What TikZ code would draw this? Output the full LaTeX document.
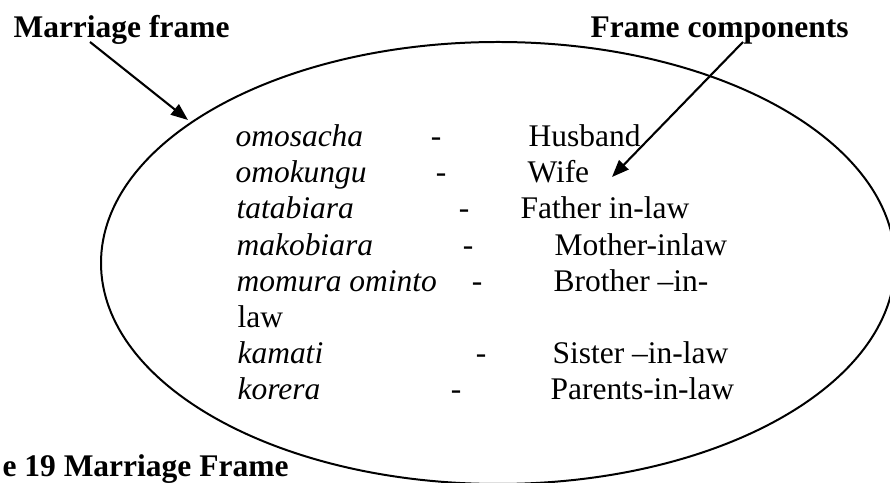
\documentclass[tikz,border=0pt]{standalone}
\usepackage{fontspec}
\setmainfont{Liberation Serif}
\usetikzlibrary{arrows.meta}
\tikzstyle{arrow} = [thick,-{Triangle[length=6.5pt,width=5pt]}]
\tikzstyle{title} = [font=\fontsize{12}{14}\selectfont\bfseries]

\begin{document}
\begin{tikzpicture}[x=0.381pt, y=-0.381pt, every node/.style={anchor=base west, inner sep=0pt, font=\fontsize{12}{14}\selectfont}]
        \useasboundingbox (0,0) rectangle (890,483);
        \clip (0,0) rectangle (890,483);

        % Frame
        \draw[line width=0.76pt] (498,263) ellipse [x radius=397, y radius=221];

        % Titles
        \node[title] (mframe) at (13,38) {Marriage frame};
        \node[title] (fcomp) at (590,38) {Frame components};
        \node[title] (caption) at (2,477) {e 19 Marriage Frame};

        % Node positions
        \node (omosacha) at (235,147) {\textit{omosacha}};
        \node (omokungu) at (235,183) {\textit{omokungu}};
        \node (tatabiara) at (236,219) {\textit{tatabiara}};
        \node (makobiara) at (236,256) {\textit{makobiara}};
        \node (momura) at (236,292) {\textit{momura ominto}};
        \node (law) at (237,328) {law};
        \node (kamati) at (237,364) {\textit{kamati}};
        \node (korera) at (237,400) {\textit{korera}};

        \node[anchor=base] (d1) at (436,147) {-};
        \node[anchor=base] (d2) at (441,183) {-};
        \node[anchor=base] (d3) at (464,219) {-};
        \node[anchor=base] (d4) at (468,256) {-};
        \node[anchor=base] (d5) at (477,292) {-};
        \node[anchor=base] (d7) at (481,364) {-};
        \node[anchor=base] (d8) at (456,400) {-};

        \node (husband) at (528,147) {Husband};
        \node (wife) at (527,183) {Wife};
        \node (father) at (520,219) {Father in-law};
        \node (mother) at (554,256) {Mother-inlaw};
        \node (brother) at (553,292) {Brother --in-};
        \node (sister) at (552,364) {Sister --in-law};
        \node (parents) at (550,400) {Parents-in-law};

        % Arrows
        \coordinate (mstart) at (90,42);
        \coordinate (mtip) at (188,120);
        \coordinate (cstart) at (743,42);
        \coordinate (ctip) at (612,177);

        \draw[arrow] (mstart) -- (mtip);
        \draw[arrow] (cstart) -- (ctip);
      \end{tikzpicture}
\end{document}
